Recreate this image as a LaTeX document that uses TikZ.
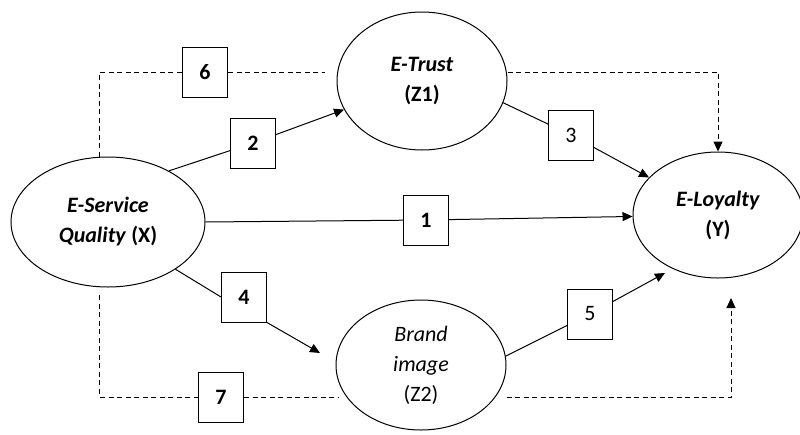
\documentclass[tikz,border=0pt]{standalone}
\usepackage{fontspec}
\setmainfont{Carlito}
\usetikzlibrary{shapes.geometric, arrows.meta}

\begin{document}
\begin{tikzpicture}[x=1pt, y=-1pt, >={Triangle[length=10pt, width=9pt]},
    latent/.style={
        % The shape:
        ellipse,
        % The size:
        minimum width=170pt, minimum height=130pt, inner sep=0pt,
        % The border
        draw=black, line width=1pt,
        % The text
        align=center, font=\fontsize{22}{30}\selectfont},
    pathbox/.style={
        % The shape:
        rectangle,
        % The size:
        minimum width=45pt, minimum height=50pt, inner sep=0pt,
        % The border
        draw=black, line width=1pt,
        % The filling
        fill=white, font=\fontsize{22}{26}\selectfont},
    link/.style={line width=1pt},
    dotlink/.style={line width=1pt, dash pattern=on 5pt off 3.5pt}]
    \useasboundingbox (0,0) rectangle (800,434);
    \node [latent, minimum width=194pt] (esq) at (108,222) {\textbf{\textit{E-Service}}\\\textbf{\textit{Quality} (X)}};
    \node [latent, minimum height=138pt] (trust) at (422,81) {\textbf{\textit{E-Trust}}\\\textbf{(Z1)}};
    \node [latent, minimum height=126pt] (loy) at (718,215) {\textbf{\textit{E-Loyalty}}\\\textbf{(Y)}};
    \node [latent] (brand) at (421,365) {\textit{Brand}\\\textit{image}\\(Z2)};
    \node [pathbox] (b6) at (205,72) {\textbf{6}};
    \node [pathbox] (b2) at (253,143) {\textbf{2}};
    \node [pathbox] (b3) at (571,135) {3};
    \node [pathbox] (b1) at (426,220) {\textbf{1}};
    \node [pathbox] (b4) at (244,297) {\textbf{4}};
    \node [pathbox] (b7) at (221,397) {\textbf{7}};
    \node [pathbox] (b5) at (590,314) {5};
    % direct paths
    \draw [link] (esq.east) -- (b1);
    \draw [link, ->] (b1) -- (loy);
    \draw [link] (esq.40) -- (b2);
    \draw [link, ->] (b2) -- (trust);
    \draw [link] (trust.-15) -- (b3);
    \draw [link, ->] (b3) -- (loy);
    \draw [link] (esq.-35) -- (b4.west);
    \coordinate (e4) at (320,353);
    \draw [link, ->] (b4.south east) -- (e4);
    \draw [link] (brand.6) -- (b5);
    \coordinate (e5) at (665,273);
    \draw [link, ->] (b5) -- (e5);
    % mediated paths
    \draw [dotlink] (esq.97) |- (b6.west);
    \coordinate (c6) at (325,72);
    \draw [dotlink] (b6.east) -- (c6);
    \draw [dotlink, ->] (trust.east |- c6) -| (loy.north);
    \draw [dotlink] ([yshift=-8pt]esq.263) |- (b7.west);
    \coordinate (c7) at (338,397);
    \draw [dotlink] (b7.east) -- (c7);
    \coordinate (e7) at (731,298);
    \draw [dotlink, ->] (brand.east |- c7) -| (e7);
\end{tikzpicture}
\end{document}
